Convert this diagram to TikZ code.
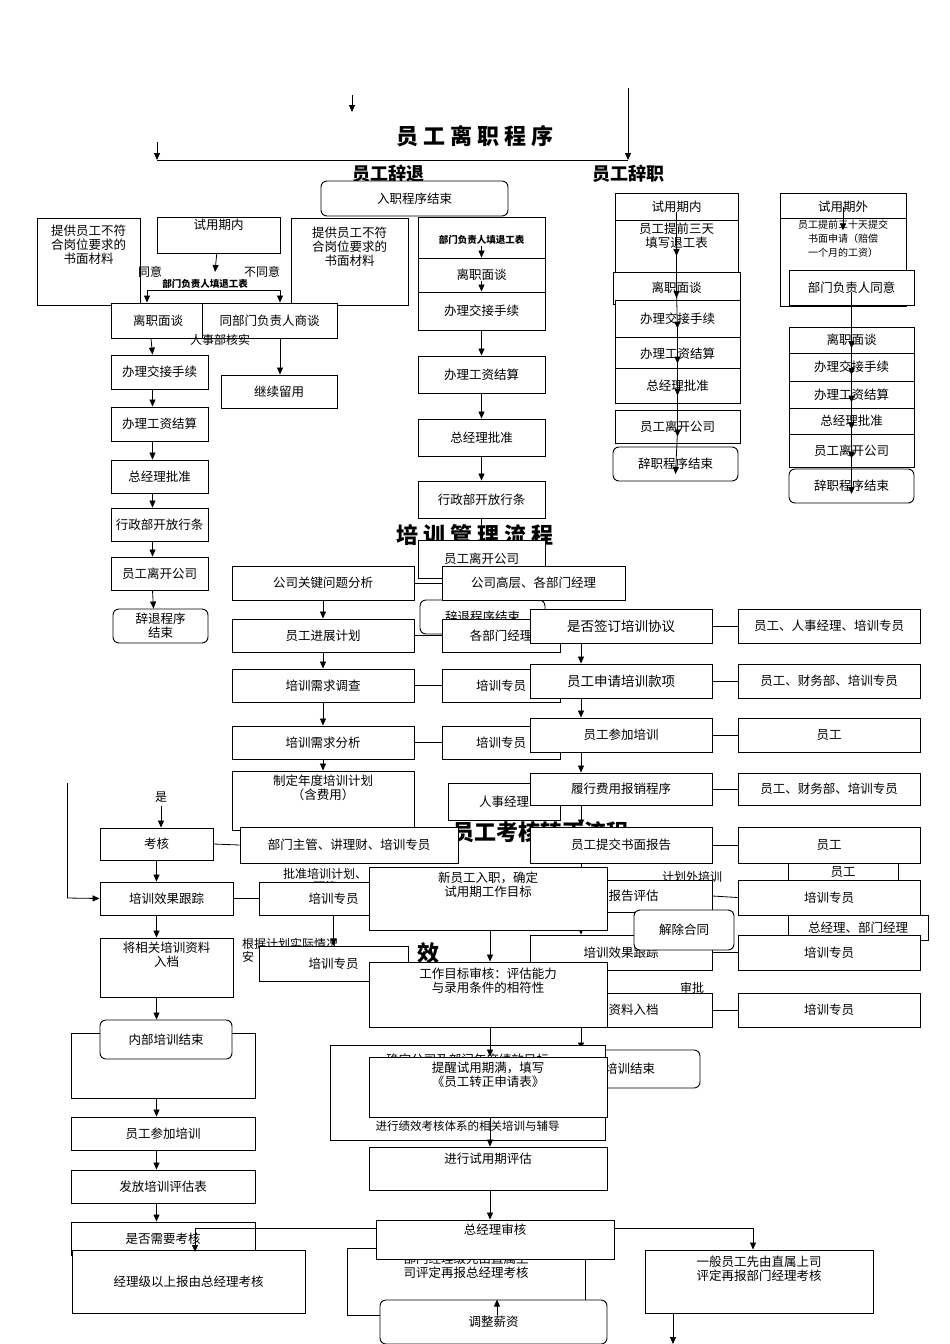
\documentclass[tikz,border=0pt]{standalone}
\usepackage{fontspec}
\setmainfont{Noto Sans CJK SC}
\usetikzlibrary{arrows.meta}
\tikzset{bx/.style={draw,fill=white,line width=0.9pt,inner sep=1pt,align=center,font=\fontsize{12.5}{14}\selectfont},
rbx/.style={bx,rounded corners=6pt},
ar/.style={-{Triangle[length=7pt,width=6pt]},line width=0.8pt},
ln/.style={line width=0.8pt},
ttl/.style={font=\fontsize{22}{24}\selectfont\bfseries},
lbl/.style={font=\fontsize{12}{13}\selectfont}}
\newcommand\bx[7][bx]{\node[#1,minimum width={(#5-#3)*1pt},minimum height={(#6-#4)*1pt}] (#2) at ({(#3+#5)/2},{(#4+#6)/2}) {#7};}
\begin{document}
\begin{tikzpicture}[x=1pt,y=-1pt]
\useasboundingbox (0,0) rectangle (950,1344);
% ===== 离职 =====
\node[ttl] (t1) at (475,136) {员 工 离 职 程 序};
\coordinate (a0) at (352,95); \coordinate (a1) at (352,112); \draw[ar] (a0)--(a1);
\coordinate (b0) at (628,88); \coordinate (b1) at (628,160); \draw[ar] (b0)--(b1);
\coordinate (c0) at (157,142); \coordinate (c1) at (157,160); \draw[ar] (c0)--(c1);
\coordinate (h0) at (157,160); \coordinate (h1) at (628,160); \draw[ln] (h0)--(h1);
\node[ttl,font=\fontsize{18}{20}\selectfont\bfseries] (t2) at (388,174) {员工辞退};
\node[ttl,font=\fontsize{18}{20}\selectfont\bfseries] (t3) at (628,174) {员工辞职};
\bx[rbx]{rs}{321}{181}{508}{216}{入职程序结束}
\bx{p1}{37}{218}{140}{305}{提供员工不符\\合岗位要求的\\书面材料\\[1.6em]}
\bx{syq}{157}{217}{280}{253}{试用期内\\[0.6em]}
\bx{p2}{291}{218}{408}{305}{提供员工不符\\合岗位要求的\\书面材料\\[1.4em]}
\bx{m1}{418}{217}{545}{262}{\bfseries\fontsize{9.5}{10}\selectfont 部门负责人填退工表}
\bx{m2}{418}{258}{545}{292}{离职面谈}
\bx{m3}{418}{292}{545}{330}{办理交接手续}
\node[lbl] (ty) at (150,272) {同意};
\node[lbl] (bty) at (262,272) {不同意};
\coordinate (sp1) at (147,290); \coordinate (sp2) at (280,290);
\draw[ln] (sp1)--(sp2);
\node[font=\bfseries\fontsize{9.5}{10}\selectfont] (bfz) at (205,284) {部门负责人填退工表};
\draw[ar] (syq)--(215,272);
\bx{l1}{111}{303}{205}{338}{离职面谈}
\bx{l2}{202}{303}{337}{338}{同部门负责人商谈}
\draw[ar] (sp1)--(l1.north-|sp1);
\draw[ar] (sp2)--(l2.north-|sp2);
\node[lbl] (rsh) at (220,340) {人事部核实};
\bx{l3}{111}{355}{208}{389}{办理交接手续}
\bx{l4}{221}{375}{337}{408}{继续留用}
\draw[ar] (l2.south-|sp2)--(l4.north-|sp2);
\bx{l5}{111}{407}{208}{441}{办理工资结算}
\bx{l6}{111}{460}{208}{493}{总经理批准}
\bx{l7}{111}{508}{208}{541}{行政部开放行条}
\bx{l8}{111}{557}{208}{590}{员工离开公司}
\bx[rbx]{l9}{113}{609}{208}{643}{辞退程序\\结束}
\foreach \u/\v in {l1/l3,l3/l5,l5/l6,l6/l7,l7/l8,l8/l9}{\draw[ar] ([xshift=-7pt]\u.south)--([xshift=-7pt]\v.north);}
\bx{m4}{418}{356}{545}{393}{办理工资结算}
\bx{m5}{418}{419}{545}{456}{总经理批准}
\bx{m6}{418}{481}{545}{518}{行政部开放行条}
\foreach \u/\v in {m3/m4,m4/m5,m5/m6}{\draw[ar] (\u.south)--(\v.north);}
\foreach \u/\v in {m1/m2,m2/m3}{\draw[ar] ([yshift=-6pt]\u.center)--(\v.north);}
\node[ttl] (t4) at (475,535) {培 训 管 理 流 程};
\bx{m7}{418}{540}{545}{578}{员工离开公司}
\draw[ar] (m6.south)--(m7.north);
\bx[rbx]{m8}{420}{600}{545}{634}{辞退程序结束}
% 辞职
\bx{r1}{615}{193}{738}{220}{试用期内}
\bx{r2}{615}{220}{738}{272}{员工提前三天\\填写退工表\\[0.6em]}
\bx{r3}{613}{272}{740}{304}{离职面谈}
\bx{r4}{615}{300}{740}{337}{办理交接手续}
\bx{r5}{615}{337}{740}{370}{办理工资结算}
\bx{r6}{615}{368}{740}{403}{总经理批准}
\bx{r7}{615}{410}{740}{443}{员工离开公司}
\bx[rbx]{r8}{613}{447}{738}{481}{辞职程序结束}
\foreach \u/\v in {r1/r2,r2/r3,r3/r4,r4/r5,r5/r6,r6/r7,r7/r8}{\draw[ar] ([yshift=-5pt]\u.center)--([yshift=-10pt]\v.center);}
\bx{s1}{780}{193}{906}{220}{试用期外}
\bx{s2}{780}{220}{906}{305}{\fontsize{10}{10.5}\selectfont 员工提前三十天提交\\\fontsize{10}{10.5}\selectfont 书面申请（赔偿\\\fontsize{10}{10.5}\selectfont 一个月的工资）\\[2.8em]}
\bx{s3}{789}{270}{914}{305}{部门负责人同意}
\bx{s4}{789}{327}{914}{353}{离职面谈}
\bx{s5}{789}{353}{914}{381}{办理交接手续}
\bx{s6}{789}{381}{914}{408}{办理工资结算}
\bx{s7}{789}{408}{914}{434}{总经理批准}
\bx{s8}{789}{434}{914}{467}{员工离开公司}
\bx[rbx]{s9}{789}{469}{914}{503}{辞职程序结束}
\foreach \u/\v in {s3/s4,s4/s5,s5/s6,s6/s7,s7/s8,s8/s9}{\draw[ar] ([yshift=-4pt]\u.center)--([yshift=-8pt]\v.center);}
\draw[ar] (s1.center)--([yshift=-12pt]s2.north);
% ===== 培训 =====
\bx{g1}{232}{566}{414}{600}{公司关键问题分析}
\bx{g2}{232}{619}{414}{652}{员工进展计划}
\bx{g3}{232}{669}{414}{702}{培训需求调查}
\bx{g4}{232}{726}{414}{759}{培训需求分析}
\bx{g5}{232}{771}{414}{830}{制定年度培训计划\\（含费用）\\[1em]}
\foreach \u/\v in {g1/g2,g2/g3,g3/g4,g4/g5}{\draw[ar] (\u.south)--(\v.north);}
\bx{h1}{442}{566}{625}{600}{公司高层、各部门经理}
\bx{h2}{442}{619}{560}{652}{各部门经理}
\bx{h3}{442}{669}{560}{702}{培训专员}
\bx{h4}{442}{726}{560}{759}{培训专员}
\bx{h5}{448}{783}{560}{820}{人事经理}
\foreach \u/\v in {g1/h1,g2/h2,g3/h3,g4/h4}{\draw[ln] (\u.east)--(\v.west);}
\node[ttl] (t5) at (540,832) {员工考核转正流程};
\bx{k1}{530}{609}{712}{643}{\fontsize{13.5}{14}\selectfont 是否签订培训协议}
\bx{k2}{530}{664}{712}{698}{\fontsize{13.5}{14}\selectfont 员工申请培训款项}
\bx{k3}{530}{718}{712}{752}{员工参加培训}
\bx{k4}{530}{773}{712}{805}{履行费用报销程序}
\bx{k5}{530}{827}{712}{863}{员工提交书面报告}
\node[lbl] (jhw) at (692,877) {计划外培训};
\bx{k6}{530}{880}{712}{912}{培训报告评估}
\bx{k7}{530}{935}{712}{970}{培训效果跟踪}
\node[lbl] (spl) at (692,988) {审批};
\bx{k8}{530}{993}{712}{1027}{培训资料入档}
\bx[rbx]{k9}{560}{1050}{700}{1088}{培训结束}
\foreach \u/\v in {k1/k2,k2/k3,k3/k4,k4/k5,k5/k6,k6/k7,k7/k8,k8/k9}{\draw[ar] ([xshift=-40pt]\u.south)--([xshift=-40pt]\u.south|-\v.north);}
\bx{q1}{738}{609}{920}{643}{员工、人事经理、培训专员}
\bx{q2}{738}{664}{920}{698}{员工、财务部、培训专员}
\bx{q3}{738}{718}{920}{752}{员工}
\bx{q4}{738}{773}{920}{805}{员工、财务部、培训专员}
\bx{q5}{738}{827}{920}{863}{员工}
\bx{q5b}{788}{863}{898}{882}{员工}
\bx{q6}{738}{880}{920}{915}{培训专员}
\bx{q6b}{788}{915}{928}{940}{总经理、部门经理}
\bx{q7}{738}{935}{920}{970}{培训专员}
\bx{q8}{738}{993}{920}{1027}{培训专员}
\foreach \u/\v in {k1/q1,k2/q2,k3/q3,k4/q4,k5/q5,k6/q6,k7/q7,k8/q8}{\draw[ln] (\u.east)--(\v.west);}
\bx[rbx]{jc}{634}{910}{734}{950}{解除合同}
% left lower
\node[lbl] (shi) at (161,797) {是};
\bx{n1}{100}{828}{213}{860}{考核}
\draw[ar] (shi)--(shi|-n1.north);
\bx{n1b}{240}{827}{458}{863}{部门主管、讲理财、培训专员}
\draw[ln] (n1.east)--(n1b.west);
\node[lbl,align=center] (pz) at (325,880) {批准培训计划、\\预算};
\bx{n2}{100}{882}{233}{915}{培训效果跟踪}
\bx{n2b}{259}{882}{408}{915}{培训专员}
\draw[ln] (n2.east)--(n2b.west);
\coordinate (yl0) at (67,783); \coordinate (yl1) at (67,898);
\draw[ln] (yl0)--(yl1); \draw[ar] (yl1)--(n2.west);
\bx{n3}{100}{938}{233}{997}{将相关培训资料\\入档\\[1em]}
\node[lbl,align=left] (gj) at (290,950) {根据计划实际情况\\安};
\bx{n3b}{259}{946}{408}{981}{培训专员}
\draw[ar] (n1.south)--(n2.north-|n1.south);
\draw[ar] (n2.south-|n1.south)--(n3.north-|n1.south);
\draw[ar] (n2b.south)--(n3b.north);
\bx{n4b}{71}{1033}{255}{1098}{\\的内部培训\\[1.5em]}
\bx[rbx]{n4}{100}{1020}{232}{1059}{内部培训结束}
\draw[ar] (n3.south-|n1.south)--(n4.north-|n1.south);
\bx{n5}{71}{1117}{255}{1150}{员工参加培训}
\bx{n6}{71}{1170}{255}{1203}{发放培训评估表}
\bx{n7}{71}{1222}{255}{1255}{是否需要考核}
\draw[ar] (n4b.south-|n1.south)--(n5.north-|n1.south);
\draw[ar] (n5.south-|n1.south)--(n6.north-|n1.south);
\draw[ar] (n6.south-|n1.south)--(n7.north-|n1.south);
% conversion
\bx{c1}{369}{867}{607}{930}{新员工入职，确定\\试用期工作目标\\[1.2em]}
\node[ttl] (xiao) at (428,953) {效};
\bx{c2}{369}{962}{607}{1027}{工作目标审核：评估能力\\与录用条件的相符性\\[1.2em]}
\bx{c3b}{330}{1045}{605}{1140}{确定公司及部门年度绩效目标\\[4.2em]\fontsize{11.5}{12}\selectfont 进行绩效考核体系的相关培训与辅导}
\bx{c3}{369}{1057}{607}{1117}{提醒试用期满，填写\\《员工转正申请表》\\[1em]}
\bx{c4}{369}{1147}{607}{1190}{进行试用期评估\\[0.6em]}
\coordinate (vx) at (490,0);
\draw[ar] (vx|-c1.south)--(vx|-c2.north);
\draw[ar] (vx|-c2.south)--(vx|-c3.north);
\draw[ar] (vx|-c3.south)--(vx|-c4.north);
\bx{c6}{347}{1248}{585}{1315}{部门经理级先由直属上\\司评定再报总经理考核\\[1.5em]}
\bx{c5}{376}{1220}{614}{1259}{总经理审核\\[0.5em]}
\draw[ar] (vx|-c4.south)--(vx|-c5.north);
\bx{d1}{72}{1250}{305}{1313}{经理级以上报由总经理考核}
\bx{d2}{645}{1250}{873}{1313}{一般员工先由直属上司\\评定再报部门经理考核\\[1em]}
\coordinate (e0) at (753,1228); \draw[ln] (c5.east|-e0)--(e0); \draw[ar] (e0)--(d2.north-|e0);
\coordinate (e1) at (195,1228); \draw[ln] (c5.west|-e1)--(e1); \draw[ar] (e1)--(195,1252);
\bx[rbx]{c7}{380}{1300}{607}{1344}{调整薪资}
\coordinate (vy) at (497,0);
\draw[ar] (vy|-c6.south)--(vy|-c7.north);
\coordinate (z0) at (673,1313); \coordinate (z1) at (673,1344); \draw[ar] (z0)--(z1);
\end{tikzpicture}
\end{document}
